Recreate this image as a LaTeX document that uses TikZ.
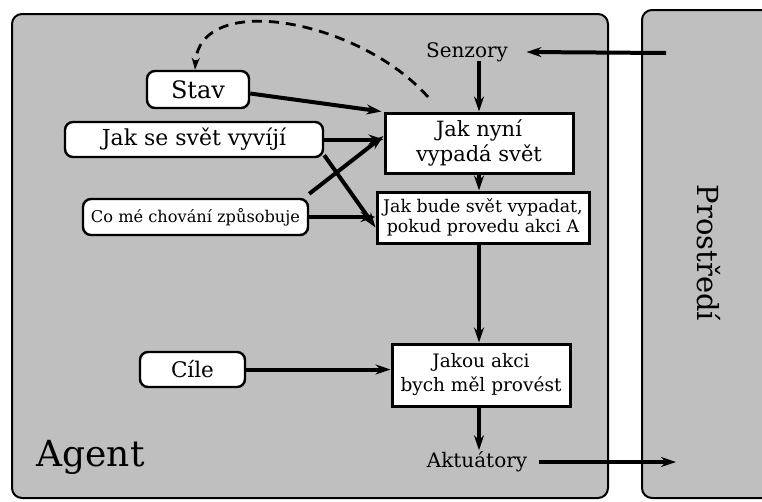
\documentclass[tikz,border=0pt]{standalone}
\usepackage{fontspec}
\setmainfont{DejaVu Serif}
\usetikzlibrary{arrows.meta,positioning,calc}

\begin{document}
\begin{tikzpicture}[x=1pt, y=-1pt,
    panel/.style={draw, line width=2pt, fill=black!25, rounded corners=10pt},
    roundbox/.style={draw, line width=2.4pt, fill=white, rounded corners=8pt, inner sep=0pt},
    sqbox/.style={draw, line width=3pt, fill=white, inner sep=0pt, align=center},
    flow/.style={-{Stealth[length=15pt, width=10pt]}, line width=4pt}]
    \useasboundingbox (0,0) rectangle (762,501);

    \begin{scope}
        \clip (0,0) rectangle (762,501);
        \draw[panel] (12,14) rectangle (608,498);
        \draw[panel] (642,10) rectangle (800,498);
    \end{scope}
    \node[font=\fontsize{36}{40}\selectfont, anchor=base west] (agent) at (33,466) {Agent};
    \node[font=\fontsize{29}{34}\selectfont, rotate=-90] (env) at (709,253) {Prostředí};

    \node[font=\fontsize{20}{24}\selectfont] (senzory) at (467,52) {Senzory};
    \node[font=\fontsize{20}{24}\selectfont] (akt) at (477,462) {Aktuátory};

    \node[sqbox, font=\fontsize{21}{25}\selectfont, minimum width=188, minimum height=60] (now) at (479,143) {Jak nyní\\vypadá svět};
    \node[sqbox, font=\fontsize{17.4}{20}\selectfont, minimum width=212, minimum height=51] (future) at (483,217.5) {Jak bude svět vypadat,\\pokud provedu akci A};
    \node[sqbox, font=\fontsize{18.5}{24}\selectfont, minimum width=178, minimum height=62] (action) at (481,375) {Jakou akci\\bych měl provést};

    \node[roundbox, font=\fontsize{24}{28}\selectfont, minimum width=102, minimum height=37] (stav) at (198,89.5) {Stav};
    \node[roundbox, font=\fontsize{22}{26}\selectfont, minimum width=258, minimum height=35] (vyvoj) at (194,139.5) {Jak se svět vyvíjí};
    \node[roundbox, font=\fontsize{16.2}{20}\selectfont, minimum width=225, minimum height=36] (chovani) at (195.5,217) {Co mé chování způsobuje};
    \node[roundbox, font=\fontsize{21.5}{26}\selectfont, minimum width=105, minimum height=35] (cile) at (192.5,369.5) {Cíle};

    \coordinate (envin) at (666,53);
    \coordinate (envout) at (676,462);

    \draw[flow] (envin) -- ([xshift=15]senzory.east);
    \draw[flow] ([yshift=4]senzory.south -| now.north) -- (now.north);
    \draw[flow] (now.south) -- (now.south |- future.north);
    \draw[flow] (future.south -| now.south) -- (now.south |- action.north);
    \draw[flow] (action.south -| now.south) -- ([yshift=-2]now.south |- akt.north);
    \draw[flow] ([xshift=8]akt.east) -- (envout);

    \draw[flow] ([yshift=-4]stav.east) -- ([xshift=-2]now.north west);
    \draw[flow] (vyvoj.east) -- (vyvoj.east -| now.west);
    \draw[flow] ([yshift=3]vyvoj.south east) -- ([yshift=-10]future.west);
    \draw[flow] ([yshift=4]chovani.north east) -- ([yshift=7]now.west);
    \draw[flow] (chovani.east) -- (chovani.east -| future.west);
    \draw[flow] (cile.east) -- (cile.east -| action.west);

    \draw[line width=2.8pt, dash pattern=on 10pt off 7pt, -{Stealth[length=12pt, width=8pt]}]
        (428,97) .. controls (360,20) and (200,-10) .. ([xshift=-3]stav.north);
\end{tikzpicture}
\end{document}
